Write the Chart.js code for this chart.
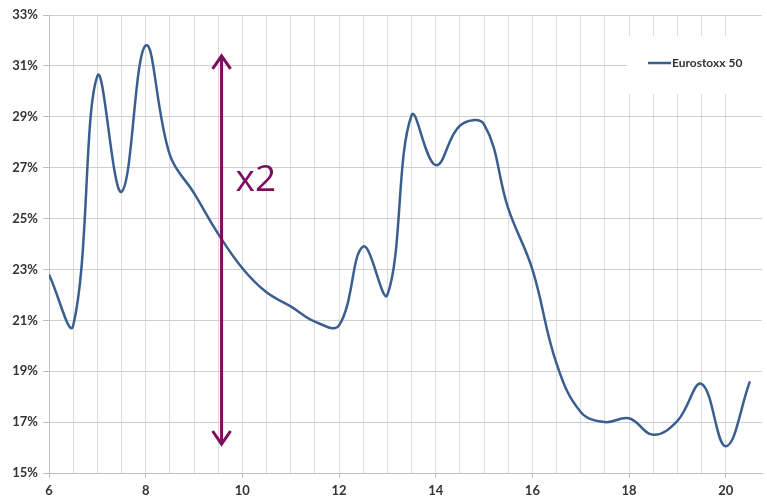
<!DOCTYPE html>
<html>
<head>
<meta charset="utf-8">
<script src="https://cdn.jsdelivr.net/npm/chart.js@4.4.0/dist/chart.umd.min.js"></script>
<style>
html,body{margin:0;padding:0;background:#fff;}
#wrap{width:767px;height:499px;position:relative;}
</style>
</head>
<body>
<div id="wrap"><canvas id="c" width="767" height="499"></canvas></div>
<script>
const xValues = [6, 6.5, 7, 7.5, 8, 8.5, 9, 9.5, 10, 10.5, 11, 11.5, 12, 12.5, 13, 13.5, 14, 14.5, 15, 15.5, 16, 16.5, 17, 17.5, 18, 18.5, 19, 19.5, 20, 20.5];
const eurostoxx = [22.8, 20.8, 30.6, 26.05, 31.8, 27.5, 26.0, 24.4, 23.05, 22.1, 21.55, 20.95, 20.8, 23.9, 22.0, 29.05, 27.1, 28.65, 28.7, 25.4, 23.0, 19.3, 17.4, 17.0, 17.15, 16.5, 17.05, 18.5, 16.05, 18.6];
const seriesLabel = 'Eurostoxx 50';
const xLabels = [6, 8, 10, 12, 14, 16, 18, 20];
const yTicks = [15, 17, 19, 21, 23, 25, 27, 29, 31, 33];
const arrowX = 9.57;
const arrowTop = 31.43;
const arrowBottom = 16.1;
const arrowText = 'x2';

const LINE = '#3A5F8F';
const PURPLE = '#7D0C5E';
const FONT = 'Lato, "Open Sans", sans-serif';

const isHalf = v => Math.abs(v * 2 - Math.round(v * 2)) < 1e-6;
const isLabel = v => xLabels.some(l => Math.abs(l - v) < 1e-6);

const overlay = {
  id: 'overlay',
  afterDatasetsDraw(chart) {
    const ctx = chart.ctx;
    const xs = chart.scales.x, ys = chart.scales.y;
    // arrow
    const ax = xs.getPixelForValue(arrowX);
    const t = ys.getPixelForValue(arrowTop);
    const b = ys.getPixelForValue(arrowBottom);
    ctx.save();
    ctx.strokeStyle = PURPLE;
    ctx.lineWidth = 3;
    ctx.lineCap = 'butt';
    ctx.beginPath();
    ctx.moveTo(ax, t + 1);
    ctx.lineTo(ax, b - 1);
    ctx.stroke();
    ctx.lineJoin = 'miter';
    ctx.beginPath();
    ctx.moveTo(ax - 9, t + 14);
    ctx.lineTo(ax, t + 1);
    ctx.lineTo(ax + 9, t + 14);
    ctx.stroke();
    ctx.beginPath();
    ctx.moveTo(ax - 9, b - 14);
    ctx.lineTo(ax, b - 1);
    ctx.lineTo(ax + 9, b - 14);
    ctx.stroke();
    ctx.fillStyle = PURPLE;
    ctx.font = '37px "Open Sans", sans-serif';
    ctx.textAlign = 'left';
    ctx.textBaseline = 'alphabetic';
    ctx.fillText(arrowText, ax + 14, 191);
    // legend
    ctx.fillStyle = '#ffffff';
    ctx.fillRect(627, 36, 136, 58);
    ctx.strokeStyle = LINE;
    ctx.lineWidth = 2.5;
    ctx.beginPath();
    ctx.moveTo(648, 63);
    ctx.lineTo(671, 63);
    ctx.stroke();
    ctx.fillStyle = '#333333';
    ctx.font = 'bold 12px ' + FONT;
    ctx.textBaseline = 'middle';
    ctx.fillText(seriesLabel, 672, 63);
    ctx.restore();
  }
};

new Chart(document.getElementById('c'), {
  type: 'line',
  data: {
    datasets: [{
      label: seriesLabel,
      data: xValues.map((x, i) => ({x: x, y: eurostoxx[i]})),
      borderColor: LINE,
      borderWidth: 2.5,
      pointRadius: 0,
      tension: 0.4,
      fill: false
    }]
  },
  options: {
    responsive: false,
    animation: false,
    layout: {padding: {top: 15, right: 3, left: 0, bottom: 0}},
    plugins: {legend: {display: false}, tooltip: {enabled: false}},
    scales: {
      x: {
        type: 'linear',
        min: 6, max: 20.75,
        afterFit(s) { s.height = 26; },
        border: {color: '#bfbfbf', width: 1},
        grid: {
          color: c => isHalf(c.tick.value) && c.tick.value > 6 ? '#dcdcdc' : 'rgba(0,0,0,0)',
          tickColor: c => isLabel(c.tick.value) ? '#bfbfbf' : 'rgba(0,0,0,0)',
          tickLength: 5,
          drawOnChartArea: true
        },
        ticks: {
          stepSize: 0.5,
          autoSkip: false,
          maxRotation: 0,
          padding: 5,
          color: '#333333',
          font: {family: FONT, size: 13, weight: 'bold'},
          callback: v => isLabel(v) ? String(v) : ''
        }
      },
      y: {
        type: 'linear',
        min: 15, max: 33,
        afterFit(s) { s.width = 49; },
        border: {color: '#bfbfbf', width: 1},
        grid: {
          color: c => c.tick.value > 15 ? '#cfcfcf' : 'rgba(0,0,0,0)',
          tickColor: '#bfbfbf',
          tickLength: 6
        },
        ticks: {
          stepSize: 2,
          padding: 5,
          color: '#333333',
          font: {family: FONT, size: 13, weight: 'bold'},
          callback: v => yTicks.includes(v) ? v + '%' : ''
        }
      }
    }
  },
  plugins: [overlay]
});
</script>
</body>
</html>
